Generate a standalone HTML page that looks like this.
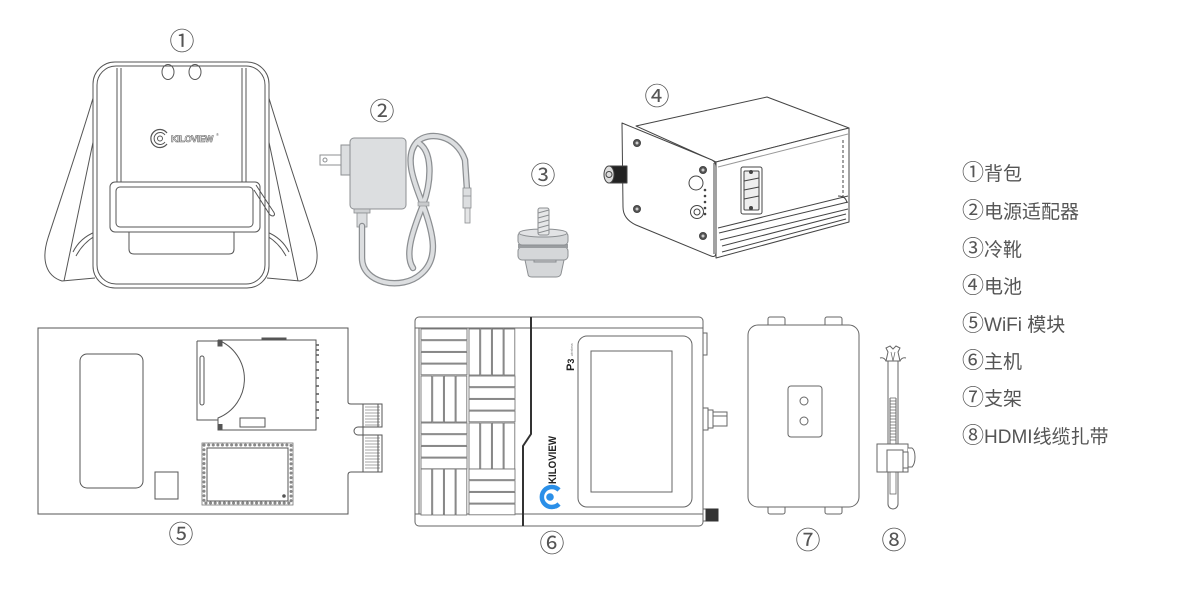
<!DOCTYPE html>
<html><head><meta charset="utf-8"><style>
html,body{margin:0;padding:0;background:#fff;}
svg{display:block;}
.t{font-family:"Liberation Sans","Noto Sans CJK SC",sans-serif;fill:#555;}
</style></head><body>
<svg width="1200" height="600" viewBox="0 0 1200 600" xmlns="http://www.w3.org/2000/svg">
<defs>
<g id="hb" fill="#fff" stroke="#777" stroke-width="0.9">
<rect x="0" y="0" width="46" height="10.7"/><rect x="0" y="11.7" width="46" height="10.7"/><rect x="0" y="23.4" width="46" height="10.7"/><rect x="0" y="35.1" width="46" height="10.7"/>
</g>
<g id="vb" fill="#fff" stroke="#777" stroke-width="0.9">
<rect x="0" y="0" width="10.7" height="46"/><rect x="11.7" y="0" width="10.7" height="46"/><rect x="23.4" y="0" width="10.7" height="46"/><rect x="35.1" y="0" width="10.7" height="46"/>
</g>
</defs>

<!-- ========== 1 Backpack ========== -->
<g fill="none" stroke="#555" stroke-width="1">
<path d="M96,88 C84,130 62,195 48,238 C41,260 46,276 62,281 L95,278" fill="#fff"/>
<path d="M101,104 L64,281"/>
<path d="M95,232 Q80,238 73,252"/>
<path d="M95,236 Q83,243 76,256"/>
<path d="M266,88 C278,130 300,195 314,238 C321,260 316,276 300,281 L267,278" fill="#fff"/>
<path d="M261,104 L298,281"/>
<path d="M267,232 Q282,238 289,252"/>
<path d="M267,236 Q279,243 286,256"/>
<rect x="93" y="62" width="176" height="226" rx="22" fill="#fff"/>
<rect x="97" y="66" width="168" height="218" rx="19"/>
<line x1="117" y1="68" x2="117" y2="182"/><line x1="121" y1="68" x2="121" y2="182"/>
<line x1="242" y1="68" x2="242" y2="182"/><line x1="246" y1="68" x2="246" y2="182"/>
<ellipse cx="168" cy="72" rx="6" ry="7.5"/>
<ellipse cx="195" cy="72" rx="6" ry="7.5"/>
<rect x="110" y="182" width="150" height="50" rx="5" fill="#fff"/>
<rect x="116" y="187" width="137" height="40" rx="4"/>
<path d="M129,232 L129,249 Q129,254 134,254 L229,254 Q234,254 234,249 L234,232"/>
<path d="M256,185 L273,211 Q276,215 273,216 Q270,216 268,212 L254,190"/>
<path d="M167,133 A9,9 0 1 0 167,144" stroke-width="1.2"/>
<path d="M165,135 A6,6 0 1 0 165,142" stroke-width="1"/>
<circle cx="160" cy="138.5" r="2.5"/>
</g>
<text x="171" y="142" font-family="Liberation Sans,sans-serif" font-size="9" font-weight="bold" fill="#fff" stroke="#666" stroke-width="0.6" letter-spacing="-0.3">KILOVIEW</text>
<text x="216" y="136" font-family="Liberation Sans,sans-serif" font-size="4" fill="#666">®</text>

<!-- ========== 2 Adapter ========== -->
<g>
<rect x="341" y="145" width="10" height="30" fill="#dcdee0" stroke="#8c8f92" stroke-width="1"/>
<rect x="320" y="155" width="21" height="10" fill="#fff" stroke="#8c8f92" stroke-width="1"/>
<circle cx="325" cy="160" r="2" fill="none" stroke="#8c8f92"/>
<rect x="350" y="138" width="56" height="71" rx="4" fill="#dcdee0" stroke="#8c8f92" stroke-width="1"/>
<rect x="354" y="209" width="16" height="4" fill="#cfd1d3" stroke="#8c8f92" stroke-width="0.8"/>
<rect x="357" y="213" width="10" height="14" fill="#dcdee0" stroke="#8c8f92" stroke-width="0.8"/>
<g fill="none" stroke-linecap="round" stroke-linejoin="round">
<path d="M362,226 L362,258 C362,284 402,291 421,274 C439,259 434,235 423,205 C413,180 404,156 417,142 C428,131 456,134 465,160 L467,190" stroke="#8c8f92" stroke-width="6.5"/>
<path d="M417,142 C433,150 432,180 423,205 C413,230 404,255 413,268" stroke="#8c8f92" stroke-width="6.5"/>
<path d="M362,226 L362,258 C362,284 402,291 421,274 C439,259 434,235 423,205 C413,180 404,156 417,142 C428,131 456,134 465,160 L467,190" stroke="#dcdee0" stroke-width="4"/>
<path d="M417,142 C433,150 432,180 423,205 C413,230 404,255 413,268" stroke="#dcdee0" stroke-width="4"/>
</g>
<rect x="418" y="202" width="11" height="4" fill="#c8cacc" stroke="#8c8f92" stroke-width="0.6"/>
<rect x="463" y="188" width="8" height="20" fill="#dcdee0" stroke="#8c8f92" stroke-width="0.8"/>
<line x1="463" y1="196" x2="471" y2="196" stroke="#8c8f92" stroke-width="0.8"/>
<rect x="465" y="208" width="5" height="15" fill="#e4e5e6" stroke="#8c8f92" stroke-width="0.8"/>
</g>

<!-- ========== 3 Cold shoe ========== -->
<g stroke="#8c8f92" stroke-width="1">
<path d="M525,260 L564,260 L561,274 Q560,277 556,277 L532,277 Q528,277 528,274 Z" fill="#d5d7d9"/>
<rect x="534" y="257" width="22" height="5" fill="#c4c6c8"/>
<rect x="518" y="247" width="50" height="13" rx="4" fill="#d5d7d9"/>
<rect x="518" y="244" width="50" height="4" fill="#9a9da0" stroke="none"/>
<rect x="518" y="232" width="50" height="13" rx="4" fill="#d5d7d9"/>
<ellipse cx="543" cy="233" rx="24" ry="4" fill="#e2e3e5"/>
<rect x="538" y="208" width="11" height="27" rx="2" fill="#e6e7e8"/>
<path d="M538,213 L549,210 M538,218 L549,215 M538,223 L549,220 M538,228 L549,225 M538,233 L549,230" fill="none"/>
</g>

<!-- ========== 4 Battery ========== -->
<g stroke="#444" stroke-width="1" fill="#fff" stroke-linejoin="round">
<polygon points="636,126 767,97 849,128 716,162"/>
<polygon points="716,162 849,128 849,222 716,258"/>
<line x1="718" y1="167" x2="848" y2="134" stroke="#999"/>
<path d="M718,228 L848,196 M719,233 L848,202 M720,240 L848,209 M722,246 L846,214 M722,252 L846,219" fill="none"/>
<path d="M843,140 L843,198" fill="none" stroke-dasharray="3 2"/>
<path d="M838,196 Q846,196 847,203" fill="none"/>
<path d="M622,123 L712,160 Q716,162 716,167 L716,252 Q716,258 711,256 L636,225 Q623,219 623,207 Z"/>
<line x1="714" y1="163" x2="714" y2="254"/>
<rect x="741" y="167" width="21" height="47" rx="2"/>
<rect x="744" y="171" width="15" height="39" rx="1" fill="#eee"/>
<path d="M744,181 L759,178 M744,190 L759,187 M744,199 L759,196" fill="none"/>
<circle cx="751" cy="172" r="1.5" fill="#444"/><circle cx="751" cy="208" r="1.5" fill="#444"/>
<circle cx="637" cy="143" r="3.5" fill="#555"/><circle cx="637" cy="143" r="1.5" fill="#ccc" stroke="none"/>
<circle cx="637" cy="209" r="3.5" fill="#555"/><circle cx="637" cy="209" r="1.5" fill="#ccc" stroke="none"/>
<circle cx="703" cy="170" r="3.5" fill="#555"/><circle cx="703" cy="170" r="1.5" fill="#ccc" stroke="none"/>
<circle cx="703" cy="236" r="3.5" fill="#555"/><circle cx="703" cy="236" r="1.5" fill="#ccc" stroke="none"/>
<circle cx="696" cy="183" r="7"/>
<circle cx="697" cy="212" r="6.5"/><circle cx="697" cy="212" r="3" fill="none"/>
<circle cx="705" cy="190" r="0.8" fill="#444"/><circle cx="705" cy="196" r="0.8" fill="#444"/><circle cx="705" cy="202" r="0.8" fill="#444"/><circle cx="705" cy="208" r="0.8" fill="#444"/><circle cx="705" cy="214" r="0.8" fill="#444"/>
<rect x="610" y="166" width="17" height="17" fill="#222"/>
<ellipse cx="609" cy="174.5" rx="5" ry="8.5" fill="#ddd"/>
<circle cx="609" cy="174.5" r="3" fill="none"/>
</g>

<!-- ========== 5 WiFi module ========== -->
<g fill="none" stroke="#555" stroke-width="1">
<path d="M38,328 L348,328 L348,402 Q348,404 351,404 L363,404 L363,472 L351,472 Q348,472 348,475 L348,514 L38,514 Z" fill="#fff"/>
<path d="M363,427 L358,427 A4,4 0 0 0 358,435 L363,435"/>
<rect x="363" y="404" width="19" height="23" fill="#fff"/>
<rect x="363" y="435" width="19" height="37" fill="#fff"/>
<path d="M365,407 H380 M365,410 H380 M365,413 H380 M365,416 H380 M365,419 H380 M365,422 H380 M365,425 H380" stroke="#888" stroke-width="0.7"/>
<path d="M365,438 H380 M365,441 H380 M365,444 H380 M365,447 H380 M365,450 H380 M365,453 H380 M365,456 H380 M365,459 H380 M365,462 H380 M365,465 H380 M365,468 H380" stroke="#888" stroke-width="0.7"/>
<line x1="378" y1="404" x2="378" y2="427"/><line x1="378" y1="435" x2="378" y2="472"/>
<rect x="80" y="354" width="63" height="134" rx="7"/>
<rect x="155" y="472" width="23" height="27"/>
<path d="M218,340 L316,340 L316,430 L218,430 L218,418 A42,42 0 0 0 218,340 Z"/>
<path d="M197,341 L218,341 M197,341 L197,420 L218,420"/>
<rect x="200" y="356" width="4" height="49" rx="2"/>
<path d="M218,340 L218,346 L222,346 L222,340" fill="#555"/>
<path d="M218,424 L218,430 L222,430 L222,424" fill="#555"/>
<rect x="262" y="338" width="24" height="2" fill="#555"/>
<rect x="240" y="418" width="25" height="9"/>
<path d="M316,345 h3 M316,350 h3 M316,355 h3 M316,362 h3 M316,370 h3 M316,378 h3 M316,386 h3 M316,394 h3 M316,402 h3 M316,410 h3 M316,418 h3" stroke-width="1.5"/>
<rect x="204" y="445" width="87" height="58" stroke="#888" stroke-width="3" stroke-dasharray="0.1 4.5" stroke-linecap="round"/>
<rect x="202" y="443" width="91" height="62" stroke="#777" stroke-width="0.8"/>
<rect x="207" y="448" width="81" height="53" fill="#fff"/>
<circle cx="284" cy="496" r="1.3" fill="#555"/>
</g>

<!-- ========== 6 Host P3 ========== -->
<g fill="none" stroke="#666" stroke-width="1">
<rect x="415" y="317" width="288" height="209" rx="4" fill="#fff"/>
<line x1="415" y1="328" x2="703" y2="328"/>
<line x1="415" y1="514" x2="703" y2="514"/>
<line x1="419" y1="328" x2="419" y2="514"/>
<use href="#hb" x="421" y="329"/>
<use href="#vb" x="469" y="329"/>
<use href="#vb" x="421" y="376"/>
<use href="#hb" x="469" y="376"/>
<use href="#hb" x="421" y="423"/>
<use href="#vb" x="469" y="423"/>
<use href="#vb" x="421" y="469"/>
<use href="#hb" x="469" y="469"/>
<path d="M531,317 L531,434 L523,446 L523,526" stroke="#333" stroke-width="2"/>
<rect x="578" y="336" width="114" height="171" rx="9"/>
<rect x="591" y="351" width="81" height="141"/>
<rect x="703" y="333" width="4" height="22" fill="#fff"/>
<rect x="703" y="408" width="5" height="22" fill="#fff"/>
<rect x="708" y="410" width="5" height="18" fill="#fff"/>
<rect x="713" y="412" width="14" height="14" fill="#fff"/>
<line x1="713" y1="416" x2="727" y2="416"/>
<rect x="703" y="509" width="3" height="12" fill="#fff"/>
<rect x="706" y="509" width="12" height="12" fill="#333" stroke="#333"/>
</g>
<path d="M559,490 A10,10 0 1 0 559,504" fill="none" stroke="#2a8fe8" stroke-width="4.5"/>
<circle cx="550" cy="497" r="3.8" fill="#2a8fe8"/>
<text transform="translate(556,484) rotate(-90)" font-family="Liberation Sans,sans-serif" font-size="11" font-weight="bold" fill="#222" textLength="48" lengthAdjust="spacingAndGlyphs">KILOVIEW</text>
<text transform="translate(574,371) rotate(-90)" font-family="Liberation Sans,sans-serif" font-size="11" font-weight="bold" fill="#222">P<tspan font-size="9">3</tspan></text>
<text transform="translate(573,356) rotate(-90)" font-family="Liberation Sans,sans-serif" font-size="3.5" fill="#777">wireless</text>

<!-- ========== 7 Stand ========== -->
<g fill="#fff" stroke="#666" stroke-width="1">
<rect x="768" y="317" width="17" height="10" rx="2"/>
<rect x="825" y="317" width="17" height="10" rx="2"/>
<rect x="768" y="505" width="17" height="9" rx="2"/>
<rect x="825" y="505" width="17" height="9" rx="2"/>
<rect x="748" y="325" width="111" height="182" rx="10"/>
<rect x="788" y="386" width="34" height="51" rx="3"/>
<circle cx="804" cy="401" r="4"/>
<circle cx="804" cy="421" r="4"/>
</g>

<!-- ========== 8 Cable tie ========== -->
<g fill="#fff" stroke="#666" stroke-width="1">
<path d="M888,360 L888,504 A5,5 0 0 0 898,504 L898,360"/>
<path d="M890,398 h6 M890,401 h6 M890,404 h6 M890,407 h6 M890,410 h6 M890,413 h6 M890,416 h6 M890,419 h6 M890,422 h6 M890,425 h6 M890,428 h6 M890,431 h6 M890,434 h6 M890,437 h6 M890,440 h6" stroke-width="0.8"/>
<line x1="890" y1="398" x2="890" y2="445"/><line x1="896" y1="398" x2="896" y2="445"/>
<rect x="890" y="472" width="6" height="22" stroke-width="0.8"/>
<path d="M880,358 Q884,357 886,361 L900,361 Q902,357 906,358" fill="none"/>
<path d="M886,361 L888,352 L886,348 L890,346 L893,349 L896,346 L900,348 L898,352 L900,361 Z"/>
<path d="M891,352 L893,361 M895,352 L893,361" fill="none" stroke-width="0.7"/>
<rect x="877" y="444" width="31" height="28"/>
<path d="M908,448 L912,448 Q915,450 915,457 Q915,464 912,467 L908,467" />
<rect x="887" y="450" width="16" height="22"/>
<rect x="903" y="452" width="5" height="16"/>
</g>

<!-- ========== Number labels ========== -->
<g class="t" font-size="25" text-anchor="middle" style="fill:#555">
<text x="182" y="50">①</text>
<text x="382" y="120">②</text>
<text x="543" y="184">③</text>
<text x="657" y="105">④</text>
<text x="181" y="543">⑤</text>
<text x="552" y="552">⑥</text>
<text x="808" y="549">⑦</text>
<text x="894" y="549">⑧</text>
</g>

<!-- ========== Legend ========== -->
<g class="t" font-size="19" style="fill:#555">
<text x="962" y="180"><tspan font-size="22">①</tspan><tspan>背包</tspan></text>
<text x="962" y="218"><tspan font-size="22">②</tspan><tspan>电源适配器</tspan></text>
<text x="962" y="256"><tspan font-size="22">③</tspan><tspan>冷靴</tspan></text>
<text x="962" y="293"><tspan font-size="22">④</tspan><tspan>电池</tspan></text>
<text x="962" y="331"><tspan font-size="22">⑤</tspan><tspan>WiFi 模块</tspan></text>
<text x="962" y="368"><tspan font-size="22">⑥</tspan><tspan>主机</tspan></text>
<text x="962" y="405"><tspan font-size="22">⑦</tspan><tspan>支架</tspan></text>
<text x="962" y="443"><tspan font-size="22">⑧</tspan><tspan>HDMI线缆扎带</tspan></text>
</g>
</svg>
</body></html>
